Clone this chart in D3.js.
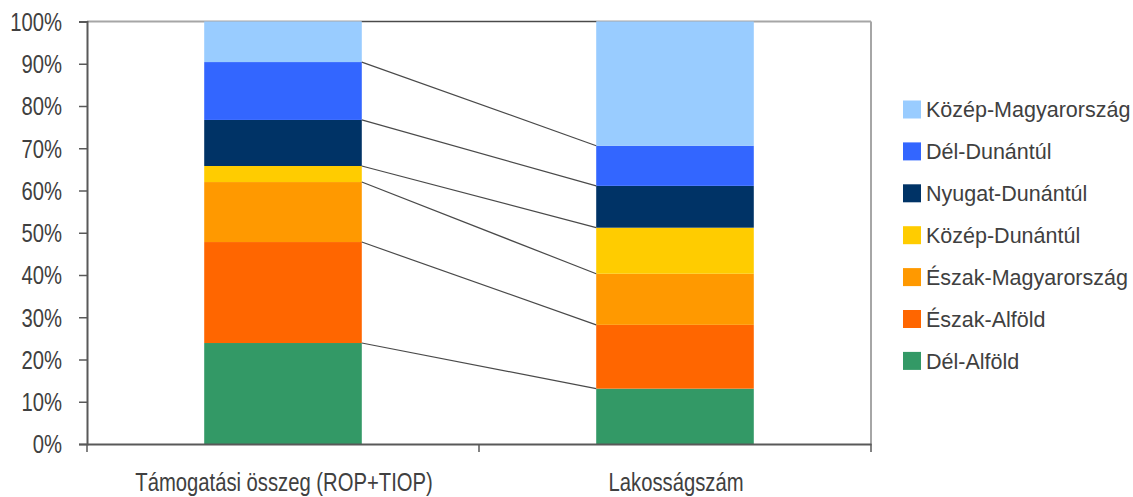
<!DOCTYPE html>
<html><head><meta charset="utf-8">
<script src="https://cdn.jsdelivr.net/npm/d3@7"></script>
<style>body{margin:0;background:#fff}svg{display:block}</style>
</head><body>
<svg id="c" width="1133" height="497"></svg>
<script>
const categories = ["Támogatási összeg (ROP+TIOP)", "Lakosságszám"];
const seriesNames = ["Dél-Alföld","Észak-Alföld","Észak-Magyarország","Közép-Dunántúl","Nyugat-Dunántúl","Dél-Dunántúl","Közép-Magyarország"];
const seriesColors = ["#339966","#FF6600","#FF9900","#FFCC00","#003366","#3366FF","#99CCFF"];
const valuesTamogatas = [23.9, 23.9, 14.2, 3.8, 10.9, 13.7, 9.6];
const valuesLakossag = [13.1, 15.1, 12.1, 10.9, 9.9, 9.5, 29.4];
const yTicks = [0,10,20,30,40,50,60,70,80,90,100];

const svg = d3.select("#c");
const L = 87, R = 871, T = 21.5, B = 444;
const font = "'Liberation Sans',Arial,sans-serif";
const sx = 0.81;
const txt = "#404040";

const x = d3.scaleBand().domain(categories).range([L, R]).padding(0);
const y = d3.scaleLinear().domain([0, 100]).range([B, T]);
const barW = x.bandwidth() * 0.402;

const rows = [valuesTamogatas, valuesLakossag];
const data = categories.map((c, i) => {
  const o = {cat: c};
  const tot = d3.sum(rows[i]);
  seriesNames.forEach((s, j) => o[s] = rows[i][j] / tot * 100);
  return o;
});
const stacked = d3.stack().keys(seriesNames)(data);

// frame (top, right)
svg.append("line").attr("x1", L).attr("x2", R).attr("y1", T).attr("y2", T).attr("stroke", "#a6a6a6").attr("stroke-width", 2);
svg.append("line").attr("x1", R).attr("x2", R).attr("y1", T).attr("y2", B).attr("stroke", "#a6a6a6").attr("stroke-width", 2);

// bars
svg.append("g").selectAll("g").data(stacked).join("g").attr("fill", (d, i) => seriesColors[i])
  .selectAll("rect").data(d => d).join("rect")
  .attr("x", d => x(d.data.cat) + (x.bandwidth() - barW) / 2)
  .attr("width", barW)
  .attr("y", d => y(d[1]))
  .attr("height", d => y(d[0]) - y(d[1]));

// series lines
const x1e = x(categories[0]) + (x.bandwidth() + barW) / 2;
const x2s = x(categories[1]) + (x.bandwidth() - barW) / 2;
svg.append("g").selectAll("line").data(stacked).join("line")
  .attr("x1", x1e).attr("x2", x2s)
  .attr("y1", d => y(d[0][1])).attr("y2", d => y(d[1][1]))
  .attr("stroke", "#4a4a4a").attr("stroke-width", 1.2);

// y axis
const ya = svg.append("g").attr("transform", `translate(${L},0)`)
  .call(d3.axisLeft(y).tickValues(yTicks).tickFormat(d => d + "%").tickSize(8).tickPadding(17));
ya.select(".domain").attr("stroke", "#595959").attr("stroke-width", 2);
ya.selectAll(".tick line").attr("stroke", "#595959").attr("stroke-width", 1.5);
ya.selectAll("text").attr("font-family", font).attr("font-size", 25).attr("fill", txt)
  .attr("dy", "0.35em").attr("x", -25 / sx).attr("transform", `scale(${sx},1)`);

// x axis
const xa = svg.append("g").attr("transform", `translate(0,${B})`)
  .call(d3.axisBottom(x).tickSize(0).tickPadding(29));
xa.select(".domain").attr("stroke", "#595959").attr("stroke-width", 2);
xa.selectAll(".tick text").attr("font-family", font).attr("font-size", 25).attr("fill", txt)
  .attr("x", 1 / sx).attr("transform", `scale(${sx},1)`);
const xb = [L, x(categories[1]), R];
xa.selectAll("line.sep").data(xb).join("line").attr("class", "sep")
  .attr("x1", d => d).attr("x2", d => d).attr("y1", 0).attr("y2", 8)
  .attr("stroke", "#595959").attr("stroke-width", 1.5);

// legend
const leg = svg.append("g");
const legItems = seriesNames.map((s, i) => ({name: s, color: seriesColors[i]})).reverse();
const lg = leg.selectAll("g").data(legItems).join("g")
  .attr("transform", (d, i) => `translate(903,${109.5 + i * 41.9})`);
lg.append("rect").attr("x", 0).attr("y", -9).attr("width", 18).attr("height", 18).attr("fill", d => d.color);
lg.append("text").attr("x", 23).attr("dy", "0.36em").text(d => d.name)
  .attr("font-family", font).attr("font-size", 21.5).attr("fill", txt);
</script>
</body></html>
